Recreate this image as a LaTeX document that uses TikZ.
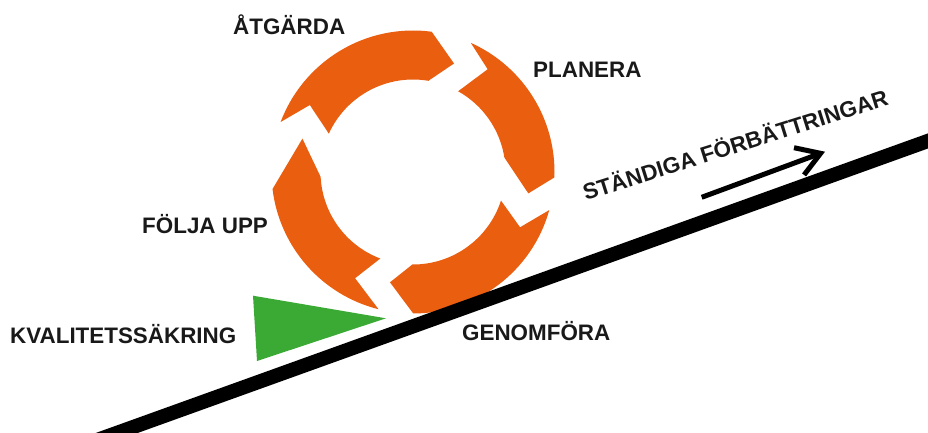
\documentclass[tikz,border=0pt]{standalone}
\usepackage{fontspec}
\setmainfont{Liberation Sans}
\usepackage{xcolor}
\usetikzlibrary{arrows.meta, positioning}
\definecolor{pdcaorange}{RGB}{233,94,15}
\definecolor{qagreen}{RGB}{59,170,53}

\begin{document}
\begin{tikzpicture}[x=1pt, y=1pt,
            phase/.style={fill=pdcaorange},
            phasetext/.style={font=\fontsize{22.4}{26}\selectfont\bfseries, text=black!90, inner sep=0pt, anchor=base west},
            slope/.style={draw=black, line width=14.2pt},
            trend/.style={draw=black, line width=5pt, -{Straight Barb[length=23pt, width=29pt]}}
        ]
\clip (0,0) rectangle (928,432);

% Hub of the cycle
            \coordinate (hub) at (413,260);

% Cycle segments (outer arc, head, inner arc, notch)
            \begin{scope}[shift={(hub)}]
            \foreach \oa/\ob/\tp/\tr/\ia/\ib/\na/\nr in {159.3/82.4/69.3/116/80.4/155.5/147/123,
                65.9/-2.2/-10.5/117.3/9/60.8/54/127,
                -15.6/-89.9/-101.8/112.7/-90.4/-18/-27.3/120.5,
                -104.1/-173.1/-196.8/115.5/-177/-110.7/-118.6/121}
                \fill[phase] (\oa:141.5pt) arc[start angle=\oa, end angle=\ob, radius=141.5pt]
                    -- (\tp:\tr pt) -- (\ia:92.5pt) arc[start angle=\ia, end angle=\ib, radius=92.5pt]
                    -- (\na:\nr pt) -- cycle;
            \end{scope}

% Quality assurance wedge
            \fill[qagreen] (253,136.3) -- (386,113.7) -- (257,71) -- cycle;

% Slope
            \coordinate (lowend) at (50,-25);
            \coordinate (highend) at (960,302.6);
            \draw[slope] (lowend) -- (highend);

% Labels
            \node[phasetext] (atgarda) at (233,397) {ÅTGÄRDA};
            \node[phasetext] (planera) at (533,354.3) {PLANERA};
            \node[phasetext] (foljaupp) at (142,199) {FÖLJA UPP};
            \node[phasetext] (kvalitet) at (10,89) {KVALITETSSÄKRING};
            \node[phasetext] (genomfora) at (462,92) {GENOMFÖRA};
            \node[phasetext, rotate=17.5] (standiga) at (585.7,231.3) {STÄNDIGA FÖRBÄTTRINGAR};

% Trend arrow
            \coordinate (trendtail) at (701.7,234.7);
            \coordinate (trendhead) at (825,280.3);
            \draw[trend] (trendtail) -- (trendhead);

        \end{tikzpicture}
\end{document}
